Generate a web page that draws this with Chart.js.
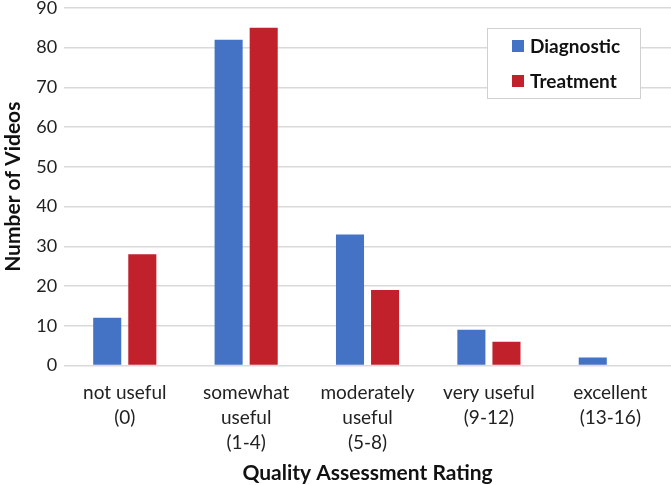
<!DOCTYPE html>
<html><head><meta charset="utf-8">
<script src="https://cdn.jsdelivr.net/npm/chart.js@4/dist/chart.umd.min.js"></script>
<style>html,body{margin:0;padding:0;background:#fff}#wrap{width:671px;height:485px}</style>
</head><body><div id="wrap"><canvas id="c"></canvas></div>
<script>
const categories = [["not useful","(0)"],["somewhat","useful","(1-4)"],["moderately","useful","(5-8)"],["very useful","(9-12)"],["excellent","(13-16)"]];
const diagnostic = [12, 82, 33, 9, 2];
const treatment = [28, 85, 19, 6, 0];
const yTicks = [0,10,20,30,40,50,60,70,80,90];
const FONT = "Lato, 'Open Sans', sans-serif";

const legendBox = {
  id: 'legendBox',
  afterDraw(chart) {
    const ctx = chart.ctx;
    const x = 487, y = 28, w = 153, h = 70;
    ctx.save();
    ctx.fillStyle = '#fff';
    ctx.fillRect(x, y, w, h);
    ctx.strokeStyle = '#d0d0d0';
    ctx.lineWidth = 1;
    ctx.strokeRect(x + 0.5, y + 0.5, w, h);
    ctx.font = "bold 19px " + FONT;
    ctx.textBaseline = 'middle';
    chart.data.datasets.forEach((ds, i) => {
      const cy = y + 18 + i * 35;
      ctx.fillStyle = ds.backgroundColor;
      ctx.fillRect(x + 25, cy - 6, 12, 12);
      ctx.fillStyle = '#111';
      ctx.fillText(ds.label, x + 43, cy + 1);
    });
    ctx.restore();
  }
};

new Chart(document.getElementById('c'), {
  type: 'bar',
  data: {
    labels: categories,
    datasets: [
      {label: 'Diagnostic', data: diagnostic, backgroundColor: '#4472c4'},
      {label: 'Treatment', data: treatment, backgroundColor: '#c0212b'}
    ]
  },
  options: {
    responsive: true, maintainAspectRatio: false, animation: false,
    layout: {padding: {top: 0, right: 0, left: 0, bottom: 0}},
    plugins: {legend: {display: false}, tooltip: {enabled: false}},
    datasets: {bar: {categoryPercentage: 0.578, barPercentage: 0.8}},
    scales: {
      x: {
        grid: {display: false, drawTicks: false},
        border: {display: false},
        ticks: {color: '#222', font: {family: FONT, size: 19, lineHeight: 1.32}, padding: 15, maxRotation: 0, autoSkip: false},
        title: {display: true, text: 'Quality Assessment Rating', color: '#111', font: {family: FONT, size: 21, weight: 'bold'}, padding: {top: -10, bottom: -1}}
      },
      y: {
        min: 0, max: 90,
        afterBuildTicks(axis) { axis.ticks = yTicks.map(v => ({value: v})); },
        grid: {color: '#d9d9d9', lineWidth: 1.5, drawTicks: false},
        border: {display: false},
        ticks: {color: '#222', font: {family: FONT, size: 18, lineHeight: 0.1}, padding: 7},
        title: {display: true, text: 'Number of Videos', color: '#111', font: {family: FONT, size: 21, weight: 'bold'}, padding: {top: 1, bottom: 3}}
      }
    }
  },
  plugins: [legendBox]
});
</script></body></html>
